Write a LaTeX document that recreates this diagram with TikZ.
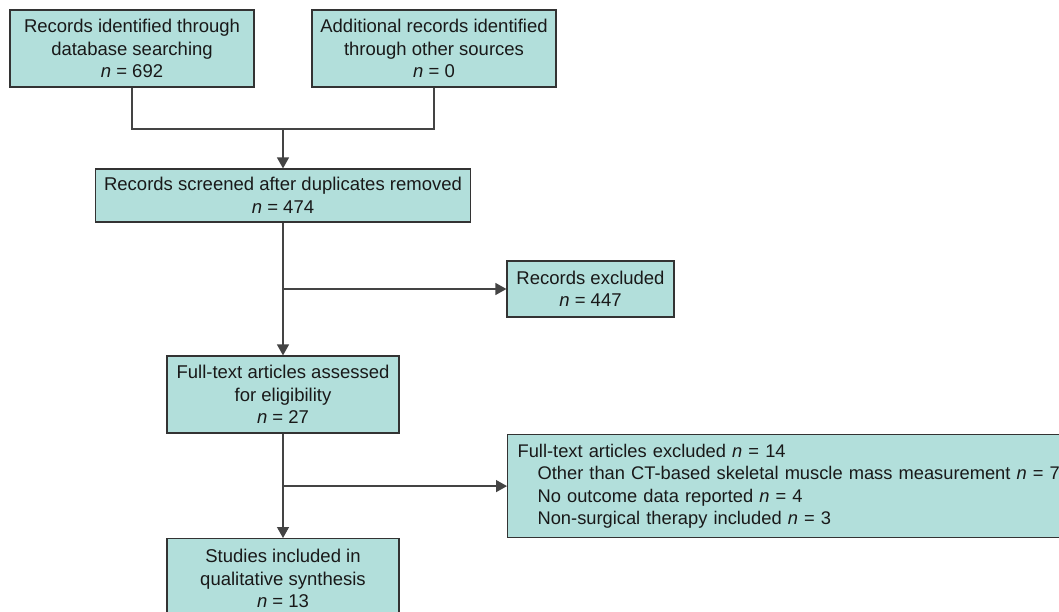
\documentclass[tikz,border=0pt]{standalone}
\usepackage{fontspec}
\setmainfont{Liberation Sans}
\usetikzlibrary{arrows.meta}
\definecolor{boxfill}{HTML}{B2DFDB}
\definecolor{boxline}{HTML}{333333}
\definecolor{linkline}{HTML}{444444}
\tikzset{
    flowbox/.style={draw=boxline, fill=boxfill, line width=1.2pt, inner sep=0pt,
        align=center, font=\fontsize{18.5}{22.5}\selectfont, text=black!90},
    link/.style={draw=linkline, line width=1.3pt},
    >={Triangle[length=11pt,width=12pt]}
}
\newcommand{\nn}{\textit{n} = }
\begin{document}
\begin{tikzpicture}[x=1pt, y=-1pt]
    \clip (0,0) rectangle (1059,612);
    \fill[white] (0,0) rectangle (1059,612);

    % Identification
    \node[flowbox, minimum width=244, minimum height=77] (dbsearch) at (132,48.5)
        {Records identified through\\database searching\\\nn692};
    \node[flowbox, minimum width=244, minimum height=77] (othersrc) at (434,48.5)
        {Additional records identified\\through other sources\\\nn0};

    % Screening
    \node[flowbox, minimum width=375, minimum height=53] (screened) at (283,195.5)
        {Records screened after duplicates removed\\\nn474};
    \node[flowbox, minimum width=167, minimum height=56] (excluded) at (590.5,289)
        {Records excluded\\\nn447};

    % Eligibility
    \node[flowbox, minimum width=232, minimum height=77] (fulltext) at (283,394.5)
        {Full-text articles assessed\\for eligibility\\\nn27};
    \node[flowbox, anchor=north west, minimum width=570, minimum height=103,
        text width=550, inner xsep=10pt, align=left,
        font=\fontsize{18.3}{22.5}\selectfont] (ftexcl) at (507,434)
        {Full-text articles excluded \nn14\\
         \hspace*{20pt}Other than CT-based skeletal muscle mass measurement \nn7\\
         \hspace*{20pt}No outcome data reported \nn4\\
         \hspace*{20pt}Non-surgical therapy included \nn3};

    % Included
    \node[flowbox, anchor=north, minimum width=232, minimum height=80] (included) at (283,538)
        {Studies included in\\qualitative synthesis\\\nn13};

    % Connectors
    \coordinate (merge) at (283,129);
    \draw[link] (dbsearch.south) |- (merge);
    \draw[link] (othersrc.south) |- (merge);
    \draw[link, ->] (merge) -- (screened.north);
    \draw[link, ->] (screened.south) -- (fulltext.north);
    \coordinate (split1) at (screened.south |- excluded.west);
    \draw[link, ->] (split1) -- (excluded.west);
    \draw[link, ->] (fulltext.south) -- (included.north);
    \coordinate (split2) at (fulltext.south |- ftexcl.west);
    \draw[link, ->] (split2) -- (ftexcl.west);
\end{tikzpicture}
\end{document}
